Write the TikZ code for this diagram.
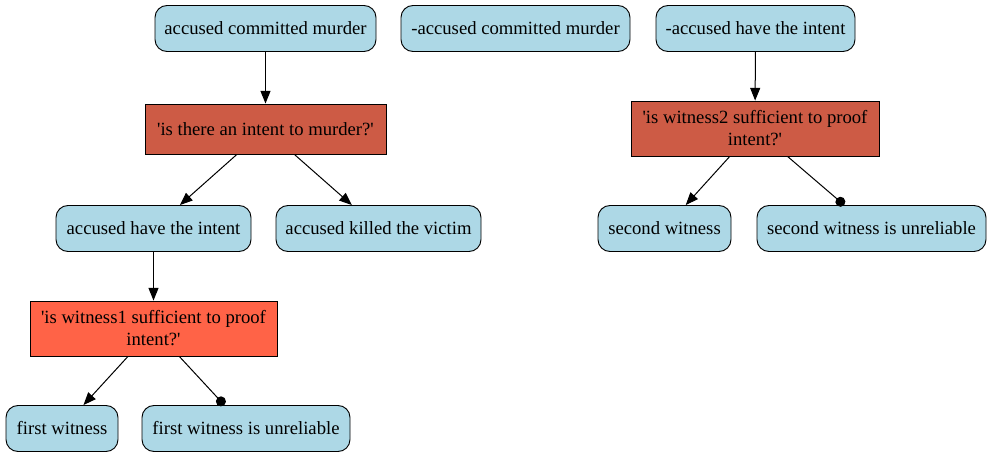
\documentclass[tikz,border=0pt]{standalone}
\usepackage{fontspec}
\setmainfont{Liberation Serif}
\usetikzlibrary{arrows.meta}
\definecolor{lightblue}{RGB}{173,216,230}
\definecolor{coralthree}{RGB}{205,91,69}
\definecolor{tomato}{RGB}{255,99,71}
\newcommand{\sq}{\textquotesingle}
\tikzset{
>={Triangle[length=9.5pt,width=7.5pt]},
fact/.style={ rectangle, rounded corners=9pt, draw=black, line width=0.7pt, fill=lightblue, minimum height=34.5pt, inner sep=2pt, font=\fontsize{14}{16.5}\selectfont},
issue/.style={ rectangle, draw=black, line width=0.7pt, fill=coralthree, inner sep=2pt, align=center, font=\fontsize{14}{16.5}\selectfont},
line/.style={draw, line width=0.75pt, ->},
undercut/.style={draw, line width=0.75pt, -{Circle[length=7.5pt]}},
}

\begin{document}
\begin{tikzpicture}
[x=0.75pt, y=-0.75pt]
\useasboundingbox (0,0) rectangle (992,458);

% top row
\node[fact, minimum width=165.75pt] (murder) at (265.5,28.5) {accused committed murder};
\node[fact, minimum width=171.75pt] (nomurder) at (515.5,28.5) {-accused committed murder};
\node[fact, minimum width=149.25pt] (nointent) at (755.5,28.5) {-accused have the intent};

% issues
\node[issue, minimum width=180.75pt, minimum height=37.5pt] (intent) at (265.5,129) {\sq is there an intent to murder?\sq};
\node[issue, minimum width=186pt, minimum height=41.25pt] (wittwo) at (755,128.5) {\sq is witness2 sufficient to proof\\intent?\sq};

% second row
\node[fact, minimum width=146.25pt] (hasintent) at (153.5,228.5) {accused have the intent};
\node[fact, minimum width=153.75pt] (killed) at (378.5,228.5) {accused killed the victim};
\node[fact, minimum width=99.75pt] (secwit) at (664.5,228.5) {second witness};
\node[fact, minimum width=171.75pt] (secunrel) at (871.5,228.5) {second witness is unreliable};

\node[issue, fill=tomato, minimum width=185.25pt, minimum height=41.25pt] (witone) at (153.5,328.5) {\sq is witness1 sufficient to proof\\intent?\sq};

% bottom row
\node[fact, minimum width=84pt] (firstwit) at (62,428.5) {first witness};
\node[fact, minimum width=156pt] (firstunrel) at (246,428.5) {first witness is unreliable};

\draw[line] (murder) -- (intent);
\draw[line] (intent) -- (hasintent);
\draw[line] (intent) -- (killed);
\draw[line] (hasintent) -- (witone);
\draw[line] (witone) -- (firstwit);
\draw[undercut] (witone) -- (firstunrel);
\draw[line] (nointent) -- (wittwo);
\draw[line] (wittwo) -- (secwit);
\draw[undercut] (wittwo) -- (secunrel);

\end{tikzpicture}
\end{document}
